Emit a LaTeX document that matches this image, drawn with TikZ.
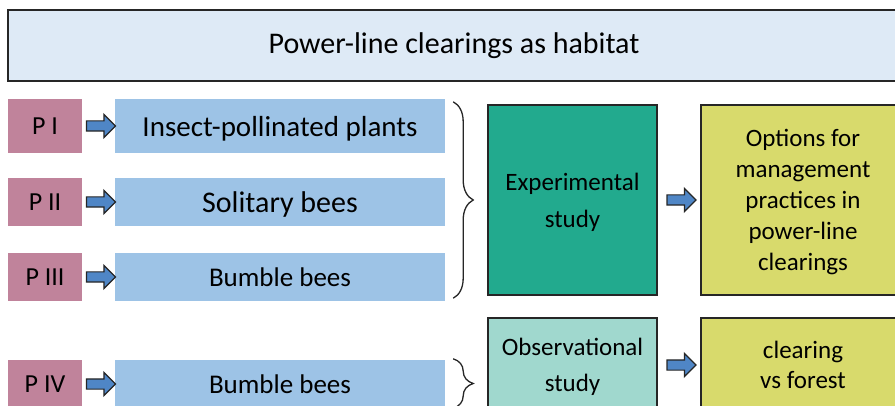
\documentclass[tikz,border=0pt]{standalone}
\usepackage{fontspec}
\setmainfont{Carlito}
\usetikzlibrary{shapes.arrows,decorations.pathreplacing,calc}

\definecolor{titlefill}{HTML}{DEEAF6}
\definecolor{pfill}{HTML}{C0839B}
\definecolor{topicfill}{HTML}{9DC3E6}
\definecolor{expfill}{HTML}{22AA8E}
\definecolor{obsfill}{HTML}{A0D8CE}
\definecolor{resfill}{HTML}{D8DA6C}
\definecolor{arrowfill}{HTML}{4F86C6}
\definecolor{edge}{HTML}{262626}

\begin{document}
\begin{tikzpicture}[x=1pt,y=-1pt,
    pbox/.style={fill=pfill,minimum width=74pt,inner sep=0pt,font=\fontsize{26}{30}\selectfont},
    topic/.style={fill=topicfill,minimum width=330pt,inner sep=0pt,text depth=0pt},
    studybox/.style={draw=edge,line width=1.5pt,minimum width=169pt,inner sep=0pt,align=center,text depth=0pt},
    resbox/.style={draw=edge,line width=1.5pt,fill=resfill,minimum width=204pt,inner sep=0pt,align=center},
    fatarrow/.style={single arrow,draw=edge,fill=arrowfill,line width=1.2pt,minimum height=29pt,
        inner xsep=0pt,inner ysep=4.5pt,single arrow head extend=6.5pt},
    bracket/.style={decorate,decoration={brace,amplitude=20pt},line width=1.3pt,draw=edge}]
    \useasboundingbox (0,0) rectangle (895,406);
    \clip (0,0) rectangle (895,406);

    \node[draw=edge,line width=1.5pt,fill=titlefill,minimum width=892pt,minimum height=71pt,
        font=\fontsize{30}{34}\selectfont] (title) at (454,45.5) {Power-line clearings as habitat};

    \node[pbox,minimum height=54pt] (p1) at (45,126) {P I};
    \node[pbox,minimum height=48pt] (p2) at (45,202) {P II};
    \node[pbox,minimum height=48pt] (p3) at (45,277) {P III};
    \node[pbox,minimum height=48pt] (p4) at (45,384) {P IV};

    \node[topic,minimum height=54pt,font=\fontsize{29}{34}\selectfont] (b1) at (280,126) {Insect-pollinated plants};
    \node[topic,minimum height=48pt,font=\fontsize{30}{34}\selectfont] (b2) at (280,202) {Solitary bees};
    \node[topic,minimum height=48pt,font=\fontsize{27}{32}\selectfont] (b3) at (280,277) {Bumble bees};
    \node[topic,minimum height=48pt,font=\fontsize{27}{32}\selectfont] (b4) at (280,384) {Bumble bees};

    \foreach \i in {1,...,4}
        \node[fatarrow] at ($(p\i.east)!0.5!(b\i.west)$) {};

    \node[studybox,fill=expfill,minimum height=190pt,font=\fontsize{25}{37}\selectfont] (exp) at (572.5,200) {Experimental\\study};
    \node[studybox,fill=obsfill,minimum height=94pt,font=\fontsize{25}{36}\selectfont] (obs) at (572.5,365) {Observational\\study};

    \node[resbox,minimum height=190pt,text depth=-4pt,font=\fontsize{25}{31}\selectfont] (opt) at (803,200)
        {Options for\\management\\practices in\\power-line\\clearings};
    \node[resbox,minimum height=94pt,font=\fontsize{25}{30}\selectfont] (cmp) at (803,365) {clearing\\vs forest};

    \node[fatarrow] at ($(exp.east)!0.5!(opt.west)$) {};
    \node[fatarrow] at ($(obs.east)!0.5!(cmp.west)$) {};

    \draw[bracket] ($(b1.north east)+(8,3)$) -- ($(b3.south east)+(8,-3)$);
    \draw[bracket] ($(b4.north east)+(8,-1)$) -- ($(b4.south east)+(8,0)$);
\end{tikzpicture}
\end{document}
